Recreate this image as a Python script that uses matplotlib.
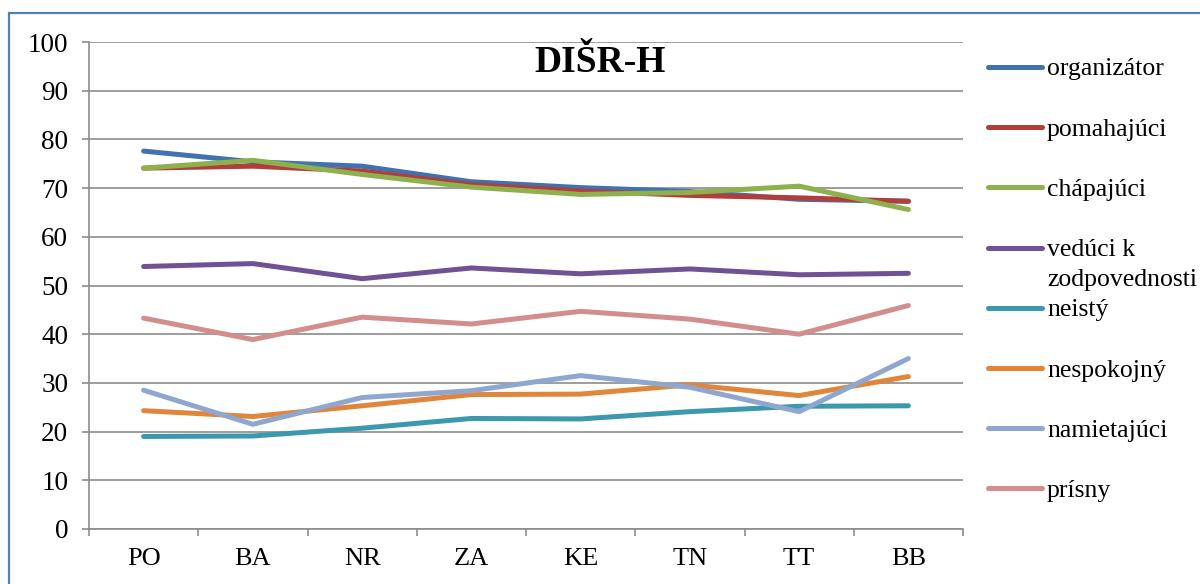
import matplotlib
matplotlib.use("Agg")
import matplotlib.pyplot as plt
from matplotlib.lines import Line2D
from matplotlib.patches import Rectangle

plt.rcParams['font.family'] = ['Liberation Serif', 'DejaVu Serif']

# Regions on the x axis
regions = ["PO", "BA", "NR", "ZA", "KE", "TN", "TT", "BB"]

# Scores per type of teacher behaviour
organizator = [77.6, 75.4, 74.5, 71.3, 70.1, 69.3, 67.7, 67.3]
pomahajuci = [74.1, 74.5, 73.5, 70.7, 69.4, 68.5, 68.0, 67.3]
chapajuci = [74.1, 75.7, 72.8, 70.2, 68.7, 69.1, 70.4, 65.6]
veduci = [53.9, 54.5, 51.4, 53.6, 52.4, 53.4, 52.2, 52.5]
neisty = [19.0, 19.1, 20.7, 22.7, 22.6, 24.1, 25.2, 25.3]
nespokojny = [24.3, 23.1, 25.3, 27.6, 27.7, 29.6, 27.4, 31.3]
namietajuci = [28.5, 21.5, 27.0, 28.4, 31.5, 29.1, 24.1, 35.0]
prisny = [43.3, 38.9, 43.5, 42.1, 44.7, 43.1, 40.0, 45.9]

series_names = ["organizátor", "pomahajúci", "chápajúci", "vedúci k\nzodpovednosti",
                "neistý", "nespokojný", "namietajúci", "prísny"]
series_values = [organizator, pomahajuci, chapajuci, veduci,
                 neisty, nespokojny, namietajuci, prisny]
series_colors = ["#3F72AF", "#B23E3B", "#8DB14D", "#6F5196",
                 "#3C98AF", "#E0863A", "#8FA7CF", "#D48D8D"]

title = "DIŠR-H"

W, H = 1200, 584
fig = plt.figure(figsize=(W / 100, H / 100), dpi=100)
fig.patch.set_facecolor("white")

# plot area in pixel coordinates
left, right, top, bottom = 89, 963, 42, 529
ax = fig.add_axes([left / W, (H - bottom) / H, (right - left) / W, (bottom - top) / H])

x = list(range(len(regions)))
for vals, col in zip(series_values, series_colors):
    ax.plot(x, vals, color=col, lw=3.6, solid_joinstyle="round", solid_capstyle="round",
            zorder=3)

ax.set_xlim(-0.5, len(regions) - 0.5)
ax.set_ylim(0, 100)

grid_col = "#8C8C8C"
ax.set_yticks(range(0, 101, 10))
ax.yaxis.grid(True, color=grid_col, lw=1.2)
ax.set_axisbelow(True)

# category boundaries as major ticks, labels as minor ticks
ax.set_xticks([i - 0.5 for i in range(len(regions) + 1)])
ax.set_xticklabels([])
ax.set_xticks(x, minor=True)
ax.set_xticklabels(regions, minor=True)
ax.tick_params(axis="x", which="major", length=5, width=1.2, color=grid_col, direction="out")
ax.tick_params(axis="x", which="minor", length=0, pad=14, labelsize=19)
ax.tick_params(axis="y", length=5, width=1.2, color=grid_col, direction="out", pad=10,
               labelsize=19.5)

for s in ["top", "right"]:
    ax.spines[s].set_visible(False)
for s in ["left", "bottom"]:
    ax.spines[s].set_color(grid_col)
    ax.spines[s].set_linewidth(1.2)

# title
fig.text(600 / W, 1 - 62 / H, title, ha="center", va="center", fontsize=27,
         fontweight="bold")

# legend drawn at the right of the plot
leg_y0, leg_step = 67, 60.2
for i, (name, col) in enumerate(zip(series_names, series_colors)):
    yy = leg_y0 + i * leg_step
    fig.add_artist(Line2D([988 / W, 1042 / W], [1 - yy / H, 1 - yy / H], color=col,
                          lw=3.6, solid_capstyle="round", transform=fig.transFigure))
    for j, ln in enumerate(name.split("\n")):
        fig.text(1047 / W, 1 - (yy + j * 30) / H, ln, ha="left", va="center_baseline",
                 fontsize=18.5)

# chart border
fig.add_artist(Rectangle((9 / W, -0.1), 1.2, 1.1 - 13 / H, transform=fig.transFigure,
                         fill=False, edgecolor="#4F81BD", lw=1.6))

fig.savefig("out.png", dpi=100, facecolor="white")
